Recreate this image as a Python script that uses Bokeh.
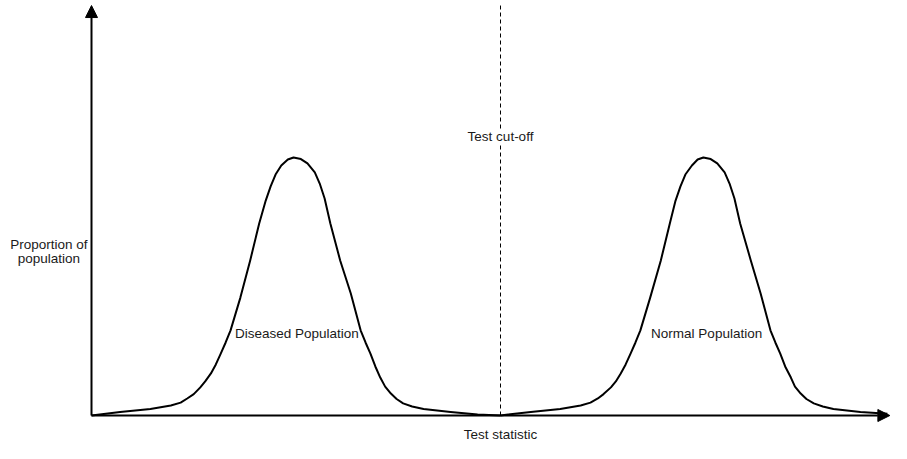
from bokeh.plotting import figure
from bokeh.models import Range1d, Label, Arrow, NormalHead
from bokeh.embed import file_html
from bokeh.resources import INLINE

# ---- data (test statistic units 0..100, proportion normalised to peak = 1) ----
diseased_x = [0, 3.5, 7.2, 9.7, 10.9, 11.7, 12.5, 13.3, 13.9, 14.6, 15.2, 15.8, 16.4, 17.0,
              18.2, 19.4, 20.5, 21.3, 21.9, 22.5, 23.2, 24.0, 24.7, 25.6, 26.4, 27.3, 27.9,
              28.5, 29.2, 30.4, 31.7, 32.9, 33.5, 34.1, 34.7, 35.3, 35.9, 36.6, 37.3, 38.1,
              39.2, 40.6, 43.9, 47.2, 50.0]
diseased_y = [0, 0.014, 0.025, 0.039, 0.050, 0.066, 0.083, 0.109, 0.132, 0.163, 0.198, 0.240,
              0.283, 0.330, 0.457, 0.601, 0.744, 0.833, 0.888, 0.934, 0.969, 0.992, 1.0, 0.994,
              0.977, 0.942, 0.899, 0.841, 0.744, 0.601, 0.473, 0.330, 0.283, 0.240, 0.190,
              0.147, 0.112, 0.085, 0.064, 0.047, 0.035, 0.025, 0.014, 0.004, 0]

normal_x = [50.0, 53.7, 57.3, 59.8, 61.0, 61.9, 62.6, 63.5, 64.1, 64.7, 65.3, 65.9, 66.5, 67.1,
            68.3, 69.6, 70.7, 71.4, 72.0, 72.6, 73.4, 74.1, 74.8, 75.7, 76.5, 77.4, 78.0,
            78.6, 79.3, 80.6, 81.8, 83.0, 83.6, 84.2, 84.8, 85.5, 86.0, 86.7, 87.4, 88.3,
            89.4, 90.7, 94.0, 97.3]
normal_y = [0, 0.014, 0.025, 0.039, 0.050, 0.066, 0.083, 0.109, 0.132, 0.163, 0.198, 0.240,
            0.283, 0.330, 0.457, 0.601, 0.744, 0.833, 0.888, 0.934, 0.969, 0.992, 1.0, 0.994,
            0.977, 0.942, 0.899, 0.841, 0.744, 0.601, 0.473, 0.330, 0.283, 0.240, 0.190,
            0.147, 0.112, 0.085, 0.064, 0.047, 0.035, 0.025, 0.014, 0.007]

cutoff = 50.0
x_axis_end = 97.6
y_axis_end = 1.589

# ---- layout ----
W, H = 891, 443
PX_X = 8.18      # pixels per x unit
PX_Y = 258.0     # pixels per y unit
x0 = -91 / PX_X
y0 = -(H - 415) / PX_Y

p = figure(width=W, height=H, output_backend="svg", toolbar_location=None,
           x_range=Range1d(x0, x0 + W / PX_X), y_range=Range1d(y0, y0 + H / PX_Y),
           x_axis_location=None, y_axis_location=None, min_border=0,
           outline_line_color=None, background_fill_color="white",
           border_fill_color="white")
p.xgrid.visible = False
p.ygrid.visible = False

FONT = "Liberation Sans"
FS = "13.5px"
TC = "#1a1a1a"

# cut-off dashed line
p.segment(x0=[cutoff], y0=[0], x1=[cutoff], y1=[y_axis_end], line_color="black",
          line_width=1, line_dash="4 3")

# curves
p.line(diseased_x, diseased_y, line_color="black", line_width=2, line_join="round")
p.line(normal_x, normal_y, line_color="black", line_width=2, line_join="round")

# axes with arrowheads
p.add_layout(Arrow(end=NormalHead(size=12, fill_color="black", line_color="black"),
                   x_start=0, y_start=0, x_end=0, y_end=y_axis_end,
                   line_color="black", line_width=2))
p.add_layout(Arrow(end=NormalHead(size=12, fill_color="black", line_color="black"),
                   x_start=0, y_start=0, x_end=x_axis_end, y_end=0,
                   line_color="black", line_width=2))

def lab(x, y, t, bg=None):
    kw = {}
    if bg:
        kw = dict(background_fill_color=bg, background_fill_alpha=1.0)
    p.add_layout(Label(x=x, y=y, text=t, text_font=FONT, text_font_size=FS,
                       text_color=TC, text_align="center", text_baseline="alphabetic", **kw))

lab(cutoff, 1.081, "Test cut-off", bg="white")
lab(25.1, 0.319, "Diseased Population")
lab(75.2, 0.319, "Normal Population")
lab(50.0, -0.074, "Test statistic")
lab(-5.22, 0.661, "Proportion of")
lab(-5.22, 0.609, "population")

open("out.html", "w").write(file_html(p, INLINE))
